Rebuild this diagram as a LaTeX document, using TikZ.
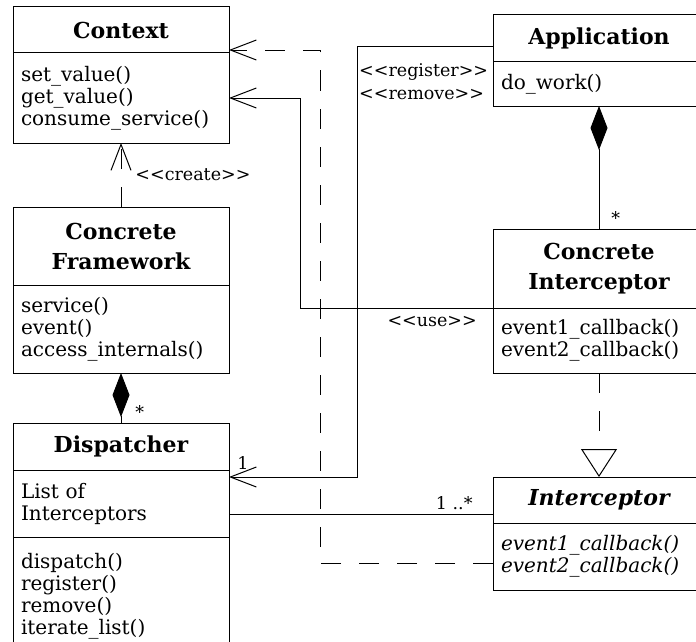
\documentclass[tikz,border=0pt]{standalone}
\usepackage{fontspec}
\setmainfont{DejaVu Serif}
\usetikzlibrary{positioning,arrows.meta}

\tikzset{
  cname/.style={draw, line width=1pt, outer sep=0pt, inner sep=4pt, minimum width=216pt,
    align=center, font=\fontsize{22}{30}\selectfont\bfseries},
  cbody/.style={draw, line width=1pt, outer sep=0pt, text width=200pt, inner xsep=8pt,
    inner ysep=3pt, align=left, font=\fontsize{20}{22}\selectfont},
  lbl/.style={inner sep=2pt, font=\fontsize{17.5}{23}\selectfont},
  assoc/.style={line width=0.9pt},
  dep/.style={line width=0.9pt, dash pattern=on 20pt off 18pt},
  navarrow/.style={-{Straight Barb[length=26pt,width=20pt,line width=1pt]}},
  compos/.style={{Diamond[length=44pt,width=17pt]}-},
  realize/.style={-{Triangle[open,length=28pt,width=36pt,line width=1pt,fill=white]}}
}

\begin{document}
\begin{tikzpicture}
  \useasboundingbox (0,0) rectangle (696pt,-642pt);
  \clip (0,0) rectangle (696pt,-642pt);

  % left column
  \node[cname, minimum height=46pt] (ctx) at (121pt,-30pt) {Context};
  \node[cbody, minimum height=90pt, below=0pt of ctx] (ctxm)
    {set\_value()\\get\_value()\\consume\_service()};
  \node[cname, minimum height=78pt, below=64pt of ctxm] (cf) {Concrete\\Framework};
  \node[cbody, minimum height=88pt, below=0pt of cf] (cfm)
    {service()\\event()\\access\_internals()};
  \node[cname, minimum height=47pt, below=50pt of cfm] (dis) {Dispatcher};
  \node[cbody, minimum height=67pt, below=0pt of dis] (disa) {List of\\Interceptors};
  \node[cbody, minimum height=118pt, below=0pt of disa] (disop)
    {dispatch()\\register()\\remove()\\iterate\_list()};

  % right column
  \node[cname, minimum width=212pt, minimum height=47pt] (app) at (599pt,-38.5pt) {Application};
  \node[cbody, text width=196pt, minimum height=44pt, below=0pt of app] (appm) {do\_work()};
  \node[cname, minimum width=212pt, minimum height=79pt, below=123pt of appm] (ci)
    {Concrete\\Interceptor};
  \node[cbody, text width=196pt, minimum height=65pt, below=0pt of ci] (cim)
    {event1\_callback()\\event2\_callback()};
  \node[cname, minimum width=212pt, minimum height=46pt, below=104pt of cim,
    font=\fontsize{22}{30}\selectfont\bfseries\itshape] (int) {Interceptor};
  \node[cbody, text width=196pt, minimum height=67pt, below=0pt of int,
    font=\fontsize{20}{22}\selectfont\itshape] (intm)
    {event1\_callback()\\event2\_callback()};

  % connectors
  \draw[dep, navarrow] (cf.north) -- (ctxm.south)
    node[lbl, midway, right, xshift=12pt] (crlbl) {<{}<create>{}>};
  \draw[assoc, compos] (cfm.south) -- (dis.north)
    node[lbl, pos=1, anchor=south west, xshift=12pt, yshift=2pt] (cfmult) {*};
  \draw[assoc, compos] (appm.south) -- (ci.north)
    node[lbl, pos=1, anchor=south west, xshift=10pt, yshift=2pt] (cimult) {*};
  \draw[dep, realize] (cim.south) -- (int.north);

  \draw[assoc, navarrow] ([yshift=-8pt]app.west) -- ++(-136pt,0) coordinate (regbend)
    |- ([yshift=-7pt]disa.north east)
    node[lbl, pos=1, anchor=south west, xshift=6pt, yshift=5pt] (one) {1};
  \node[lbl, anchor=north west, align=left] (reglbl) at ([yshift=-15pt]regbend)
    {<{}<register>{}>\\<{}<remove>{}>};

  \draw[assoc, navarrow] (ci.south west) -- ++(-193pt,0) |- (ctxm.east);
  \node[lbl, anchor=north east] (uselbl) at ([xshift=-14pt,yshift=-6pt]ci.south west) {<{}<use>{}>};

  \draw[dep, navarrow] ([yshift=-7pt]intm.west) -- ++(-173pt,0) |- ([yshift=3pt]ctx.south east);

  \draw[assoc] ([yshift=-11pt]disa.east) -- ([yshift=-11pt]disa.east -| int.west)
    node[lbl, pos=1, anchor=south east, xshift=-18pt, yshift=2pt] (many) {1 ..*};
\end{tikzpicture}
\end{document}
